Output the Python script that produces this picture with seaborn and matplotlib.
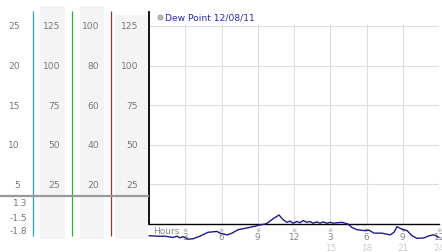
import numpy as np
import pandas as pd
import matplotlib
matplotlib.use("Agg")
import matplotlib.pyplot as plt
from matplotlib.lines import Line2D
import seaborn as sns

# ---------------- data ----------------
hours = [0.0, 0.74, 1.32, 1.99, 2.32, 2.57, 2.81, 3.23, 3.64, 4.22, 4.88, 5.63, 5.88,
         6.46, 6.87, 7.37, 8.11, 8.77, 9.19, 9.60, 9.77, 10.26, 10.76, 11.09, 11.42,
         11.67, 11.92, 12.25, 12.50, 12.75, 13.08, 13.32, 13.57, 13.90, 14.15, 14.40,
         14.73, 14.98, 15.23, 15.56, 15.97, 16.22, 16.47, 16.80, 17.21, 17.79, 18.21,
         18.62, 19.28, 19.95, 20.28, 20.52, 20.94, 21.35, 21.77, 22.18, 22.76, 23.17,
         23.59, 24.0]
dew_point = [-1.91, -1.92, -1.92, -1.95, -1.92, -1.96, -1.93, -1.99, -1.98, -1.92, -1.83,
             -1.81, -1.85, -1.89, -1.85, -1.77, -1.73, -1.69, -1.66, -1.64, -1.62, -1.52,
             -1.43, -1.54, -1.60, -1.57, -1.62, -1.58, -1.61, -1.56, -1.60, -1.58, -1.62,
             -1.59, -1.62, -1.59, -1.62, -1.60, -1.62, -1.61, -1.60, -1.62, -1.64, -1.72,
             -1.77, -1.79, -1.78, -1.85, -1.85, -1.89, -1.83, -1.70, -1.76, -1.79, -1.91,
             -1.97, -1.96, -1.91, -1.89, -1.95]
series_label = "Dew Point 12/08/11"

hour_ticks = [0, 3, 6, 9, 12, 15, 18, 21, 24]
hour_labels = ["", "3", "6", "9", "12", "3", "6", "9", "12"]
hour_labels_24 = ["", "", "", "", "", "15", "18", "21", "24"]

grid_values = [25, 50, 75, 100, 125]
col1_labels = ["5", "10", "15", "20", "25"]
col2_labels = ["25", "50", "75", "100", "125"]
col3_labels = ["20", "40", "60", "80", "100"]
col4_labels = ["25", "50", "75", "100", "125"]
dew_scale_labels = ["1.3", "-1.5", "-1.8"]

# ---------------- style ----------------
sns.set_style("white")
plt.rcParams["font.family"] = ["DejaVu Sans"]

W, H = 442, 253
fig = plt.figure(figsize=(W / 100, H / 100), dpi=100)
fig.patch.set_facecolor("white")

# pixel geometry helpers (layout only)
base_px, top_px = 225, 13
px_per_unit = 198 / 125.0
def v(py):
    return (base_px - py) / px_per_unit
ymax = v(top_px)

x0_px, x1_px = 149, 439
ax = fig.add_axes([x0_px / W, (H - base_px) / H, (x1_px - x0_px) / W, (base_px - top_px) / H])
ax.set_xlim(0, 24)
ax.set_ylim(0, ymax)
ax.set_facecolor("white")
for s in ["top", "right"]:
    ax.spines[s].set_visible(False)
ax.spines["left"].set_color("black")
ax.spines["left"].set_linewidth(1.3)
ax.spines["bottom"].set_color("black")
ax.spines["bottom"].set_linewidth(1.0)

# y grid & marks
ax.set_yticks(grid_values, labels=["\u203b"] * len(grid_values))
ax.tick_params(axis="y", length=0, pad=0.8, labelsize=4.5, labelcolor="#999999")
ax.yaxis.grid(True, color="#dddddd", lw=0.8)
ax.set_axisbelow(True)
# vertical grid
ax.vlines(hour_ticks[1:], 0, 126.3, color="#dddddd", lw=0.8, zorder=0)

# x tick labels (two rows)
ax.set_xticks(hour_ticks, labels=[""] * len(hour_ticks))
ax.tick_params(axis="x", length=0)
for h, lab in zip(hour_ticks, hour_labels):
    if lab:
        ax.annotate(lab, xy=(h, 0), xytext=(0, -8.8), textcoords="offset points",
                    ha="center", va="center", fontsize=6.4, color="#888888",
                    annotation_clip=False)
for h, lab in zip(hour_ticks, hour_labels_24):
    if lab:
        ax.annotate(lab, xy=(h, 0), xytext=(0, -16.7), textcoords="offset points",
                    ha="center", va="center", fontsize=6.4, color="#cccccc",
                    annotation_clip=False)
for h in hour_ticks[1:]:
    ax.annotate("\u203b", xy=(h, 0), xytext=(0, -3.8), textcoords="offset points",
                ha="center", va="center", fontsize=4.5, color="#999999",
                annotation_clip=False)
ax.annotate("Hours", xy=(0, 0), xytext=(3, -4.6), textcoords="offset points",
            ha="left", va="center", fontsize=6.5, color="#888888", annotation_clip=False)

# dew point on its own scale
ax2 = ax.twinx()
dew_lo = -1.5 - (base_px - 219) / 43.3
dew_hi = -1.5 + (219 - top_px) / 43.3
ax2.set_ylim(dew_lo, dew_hi)
ax2.axis("off")
df = pd.DataFrame({"hour": hours, "dew": dew_point})
sns.lineplot(data=df, x="hour", y="dew", ax=ax2, color="#1c1c86", lw=1.0, legend=False)
for ln in ax2.lines:
    ln.set_clip_on(False)

handle = Line2D([], [], marker="o", ls="", markersize=3.6,
                markerfacecolor="#bbbbbb", markeredgecolor="#999999", markeredgewidth=0.6)
leg = ax.legend([handle], [series_label], loc="upper left",
                bbox_to_anchor=((157 - x0_px) / (x1_px - x0_px), 1 - (14 - top_px) / (base_px - top_px)),
                frameon=False, fontsize=6.6, labelcolor="#2a2aa8", handlelength=0.6,
                handletextpad=0.3, borderpad=0, borderaxespad=0)

# ---------------- left scale panels ----------------
axL = fig.add_axes([0, (H - base_px) / H, x0_px / W, (base_px - top_px) / H])
axL.set_xlim(0, x0_px)
axL.set_ylim(0, ymax)
axL.axis("off")

band_color = "#f4f4f4"
for (a, b, ytop) in [(40, 65, 7), (80, 104, 7), (115, 148, 16)]:
    axL.fill_between([a, b], v(240), v(ytop), color=band_color, lw=0, clip_on=False, zorder=0)
for xl, col in [(33, "#3399cc"), (72, "#33aa33"), (111, "#aa3333")]:
    axL.vlines(xl, v(237), v(12), color=col, lw=0.9, clip_on=False, zorder=2)
axL.hlines(v(197), 0, x0_px, color="#999999", lw=1.6, clip_on=False, zorder=3)

txt_kw = dict(fontsize=6.6, color="#777777", va="center", ha="right", clip_on=False)
for xr, labels in [(20, col1_labels), (60, col2_labels), (99, col3_labels), (138, col4_labels)]:
    for gv, lab in zip(grid_values, labels):
        axL.text(xr, gv, lab, **txt_kw)
for py, lab in zip([204, 219, 232], dew_scale_labels):
    axL.text(27, v(py), lab, **txt_kw)

fig.savefig("out.png", dpi=100, facecolor="white")
